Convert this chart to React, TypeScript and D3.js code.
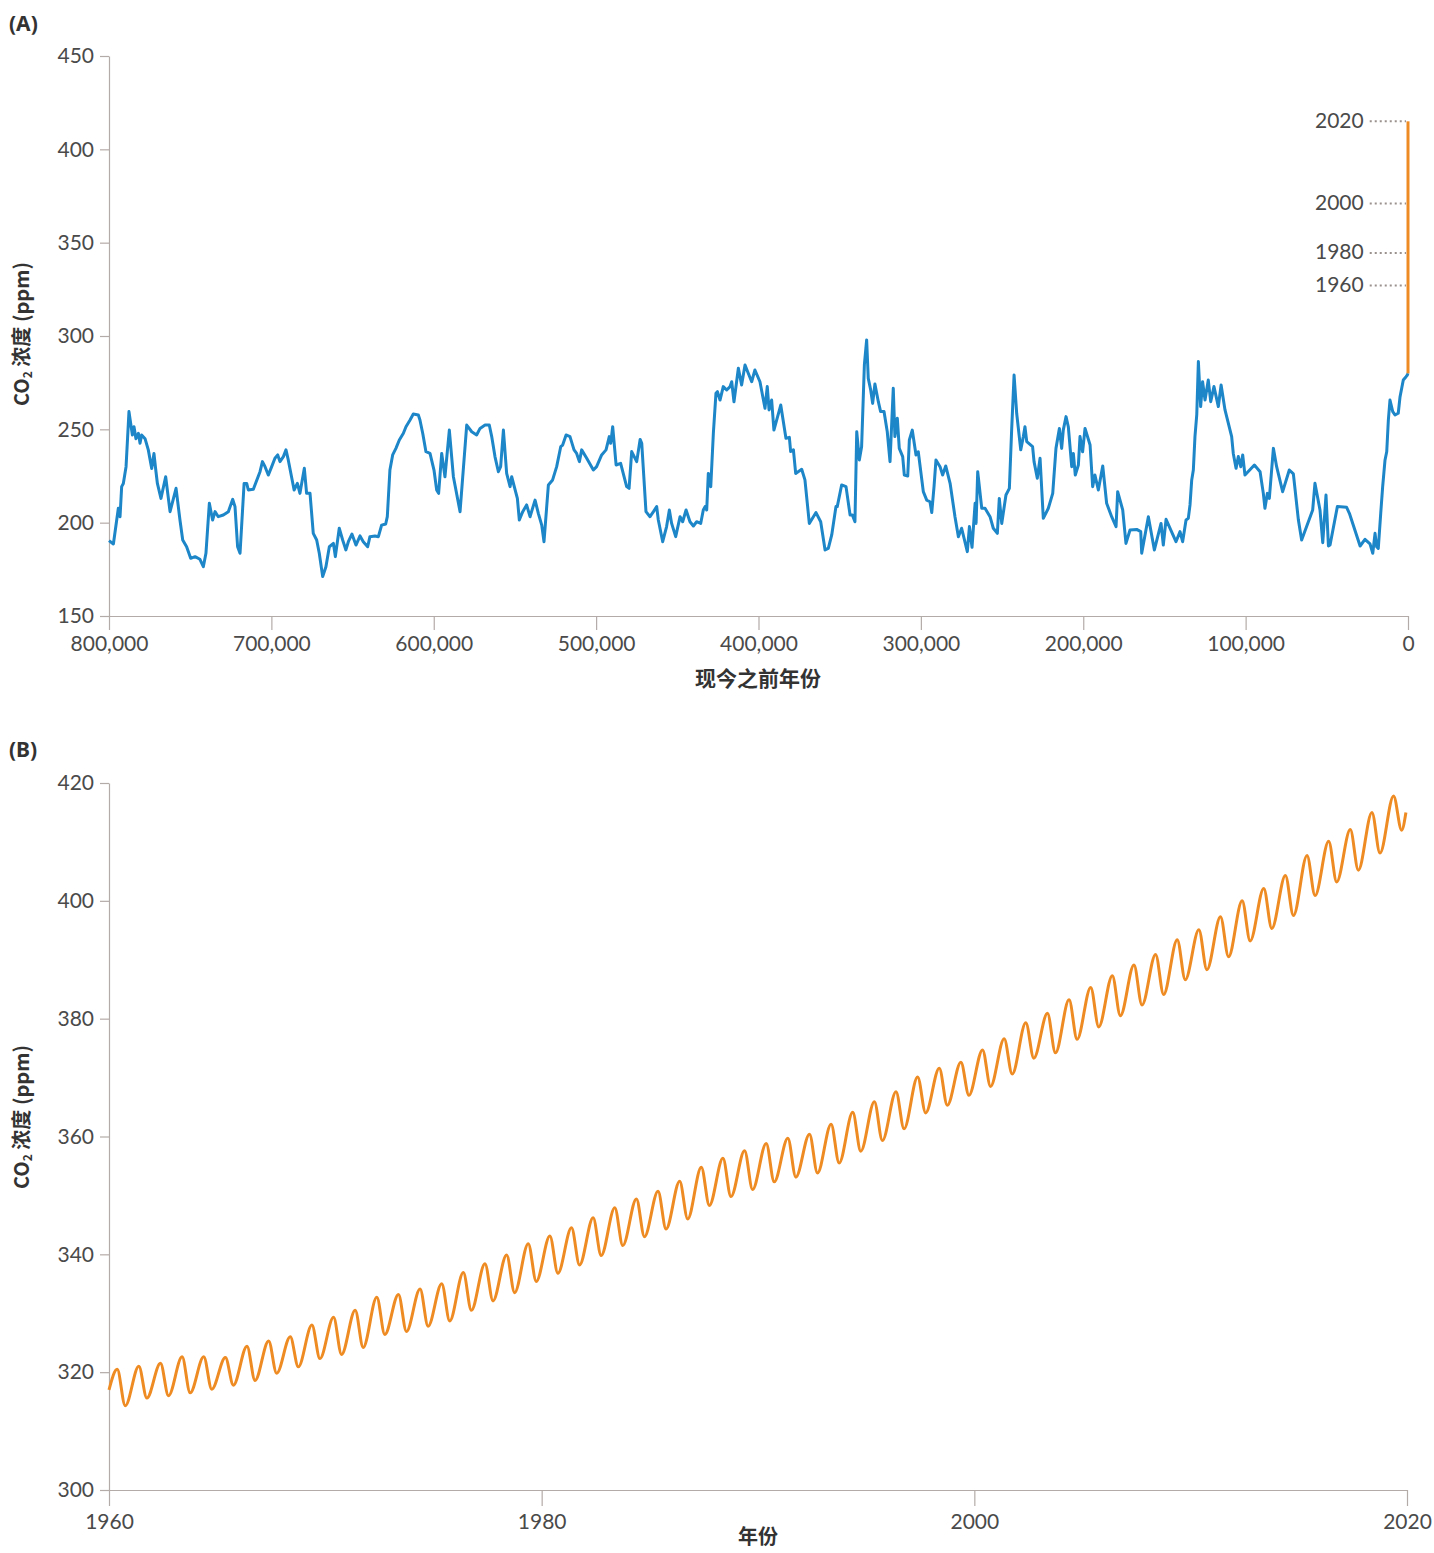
import { useEffect, useRef } from "react";
import * as d3 from "d3";

// (A) ice core record: years before present, CO2 ppm
const iceYearsBP = [
  800000, 797300, 794250, 793200, 792200, 791170, 789500, 787700, 785600, 784600, 783400, 781900, 780900, 779900,
  777800, 775800, 773700, 772300, 771300, 770200, 768000, 765100, 762400, 758700, 756300, 754600, 752200, 749700,
  747000, 744000, 741900, 740300, 738200, 736200, 734700, 732700, 729600, 726500, 723800, 722400, 720800, 719300,
  716800, 715200, 714200, 711100, 707000, 705500, 703900, 701900, 699800, 697800, 696100, 694700, 692600, 691000,
  689600, 686000, 684000, 682400, 679700, 678300, 676200, 674200, 672100, 670500, 668400, 666400, 664300, 661800,
  660600, 658200, 656100, 654100, 652600, 650400, 647900, 645400, 643400, 640700, 639300, 636200, 634100, 632100,
  629600, 628600, 627000, 625300, 623300, 621200, 618700, 617100, 614600, 612600, 609500, 608500, 606800, 604800,
  602300, 599850, 598200, 597000, 595100, 593100, 590400, 587900, 583800, 579700, 576600, 573600, 571500, 568400,
  565800, 564300, 562300, 560200, 558800, 557100, 555100, 553000, 552000, 548500, 547300, 545200, 542800, 540700,
  537600, 535600, 533500, 532100, 529400, 526800, 524300, 521800, 520600, 518500, 516100, 513600, 512000, 510300,
  508900, 505800, 501700, 499700, 496600, 493900, 491900, 491000, 489800, 487700, 484900, 481200, 479700, 478100,
  475000, 472900, 471900, 469300, 466800, 464700, 462700, 461700, 459000, 456600, 454900, 453500, 451000, 448300,
  446700, 444600, 442200, 440100, 438100, 435600, 434000, 432900, 431900, 430900, 429400, 427800, 426200, 425300,
  423700, 421700, 419600, 417500, 416500, 415100, 412400, 410400, 408300, 406300, 404200, 402200, 399100, 396000,
  394600, 393500, 391900, 390500, 386300, 383100, 381000, 380200, 378500, 377100, 373400, 371400, 368700, 364600,
  361700, 359000, 357000, 354900, 352300, 351500, 348800, 346100, 343600, 342200, 340600, 339500, 337900, 336500,
  334800, 333400, 332400, 330900, 329700, 328300, 326200, 324800, 322700, 320700, 319000, 317000, 316000, 314500,
  313300, 311200, 310200, 308100, 307100, 305300, 303000, 301600, 298500, 296400, 294400, 293300, 291900, 290700,
  288200, 286600, 284700, 282000, 279000, 276900, 274900, 271400, 270100, 268500, 266600, 266000, 265000, 262500,
  260500, 257400, 255400, 252900, 251700, 250200, 247600, 245500, 244100, 242600, 241000, 238500, 236900, 235900,
  234800, 231200, 230300, 228300, 226600, 224600, 221500, 218800, 216800, 214700, 213300, 212300, 210600, 209200,
  207100, 206100, 204900, 203000, 202000, 200400, 198900, 195800, 194200, 192800, 190700, 188000, 185600, 182500,
  179800, 178800, 175700, 173700, 171200, 167100, 164600, 164000, 159900, 156200, 152100, 150700, 149000, 142900,
  140400, 138800, 136700, 135300, 134250, 133200, 132200, 131200, 130100, 129100, 127700, 126500, 125000, 123000,
  121500, 119500, 116800, 115100, 112700, 108600, 107600, 105900, 104500, 103000, 101800, 100400, 94600, 91100,
  89100, 88100, 86600, 85400, 82900, 80900, 77200, 73100, 70600, 67500, 65500, 58700, 57300, 54200,
  52500, 50500, 49000, 48000, 43500, 37800, 36100, 29500, 26500, 23400, 21700, 20300, 19300, 18300,
  16800, 15600, 14150, 13100, 12100, 11100, 9400, 8000, 6000, 4900, 2900, 1200, 400, 0,
];
const iceCO2 = [
  190.4, 188.6, 207.7, 203.2, 219.3, 221, 230, 259.5, 247, 251.4, 245, 247.9, 242.5, 247,
  245, 239, 229, 237, 229, 221, 213, 224.6, 205.9, 218.4, 201.4, 190.7, 187.1, 180.9,
  181.8, 180.4, 176.4, 183.6, 210.4, 201.4, 205.9, 203.2, 204.1, 205.9, 212.5, 208.6, 187.1, 183.6,
  221, 221, 217.5, 217.9, 227.3, 232.7, 230, 225.5, 230, 234.5, 236.3, 232.7, 235.4, 239,
  233.6, 217.5, 221.1, 215.7, 229.1, 215.7, 215.7, 194.3, 190.7, 183.6, 171.1, 176.4, 187.1, 188.9,
  181.8, 197, 190.7, 185.4, 189.8, 193.9, 188, 192.9, 189.8, 187.1, 192.5, 192.9, 192.5, 198.7,
  199.3, 203.2, 228.2, 236.3, 239.8, 244.3, 247.9, 251.4, 255, 258.2, 257.7, 255, 247.9, 238,
  237.1, 228.2, 217.5, 215.7, 237.1, 224.6, 249.6, 224.6, 205.9, 252.3, 248.7, 247, 250.5, 252.3,
  252.3, 246.1, 235.4, 227.3, 230, 249.6, 226.4, 219.3, 224.6, 213, 201.4, 205.9, 209.5, 203.2,
  212.1, 205, 198.7, 189.8, 220.2, 222.9, 230, 240.7, 241.6, 247, 246.1, 239, 237.1, 232.7,
  239, 234.5, 228.2, 230, 236.3, 239, 246.1, 242.5, 251.4, 230.9, 231.8, 219.3, 218.4, 238.1,
  232.7, 244.6, 242.5, 205.9, 203.2, 205.9, 208.6, 201.4, 189.8, 197.9, 206.8, 199.6, 192.5, 203.2,
  200.5, 206.8, 200.5, 198.2, 200.5, 199.6, 206.8, 208.6, 206.8, 226.4, 219.3, 247.9, 269.3, 270.2,
  265.7, 272.9, 271.1, 272.9, 275.5, 264.8, 282.7, 273.8, 284.5, 280, 275.5, 281.8, 275.5, 261.3,
  272.9, 260.4, 265.7, 249.6, 263, 245.2, 245.7, 238.1, 239, 226.4, 228.6, 222.9, 199.6, 205.4,
  200.5, 185.4, 186.2, 193.4, 208.6, 208.6, 220.2, 219.3, 204.1, 204.1, 200.5, 248.7, 233.6, 240.7,
  284.5, 297.9, 277.3, 271.1, 263.9, 274.3, 264.8, 259.5, 259.5, 248.7, 232.7, 272, 246.1, 255.9,
  239.8, 235.4, 225.5, 225, 244.3, 249.6, 236.3, 238, 216.6, 212.1, 211.2, 205.4, 219.3, 233.6,
  230, 225.5, 230.4, 221.1, 203.2, 192.5, 197, 184.5, 197.9, 186.8, 210.4, 199.6, 227.3, 207.7,
  207.7, 203.2, 197, 194.3, 213, 199.6, 214.8, 218.4, 249.6, 279.1, 258.6, 239, 246.1, 251.4,
  243.4, 240.7, 232.7, 223.8, 234.5, 202.3, 207.7, 215.7, 239.8, 250.5, 239.8, 249.6, 256.8, 251.4,
  230, 237.1, 225.5, 230.9, 246.1, 238, 250.5, 241.6, 219.3, 225.5, 217.5, 230.4, 210.4, 203.2,
  197.9, 216.6, 206.8, 188.9, 196.1, 196.4, 195.2, 183.6, 203.2, 185.4, 199.6, 188, 201.8, 189.8,
  195.2, 189.8, 201.4, 202.3, 209.5, 222.9, 228.2, 246.1, 257.7, 286.3, 262.2, 275.5, 265.7, 276.4,
  264.8, 272.9, 262.2, 273.8, 260.4, 246.1, 237.1, 229.1, 235.4, 230, 236.3, 225.5, 230.9, 227.3,
  215.7, 207.7, 215.7, 213, 239.8, 230, 216.6, 228.2, 226.1, 201.4, 190.7, 206.8, 221.1, 206.8,
  189.3, 214.8, 187.5, 188, 208.6, 208.2, 205, 187.5, 191.1, 188.6, 183.6, 194.3, 187.1, 186.2,
  205, 219.3, 233.6, 238, 255, 265.7, 259.5, 257.7, 258.6, 267.5, 276.4, 278.2, 279.1, 280,
];

// (B) Mauna Loa: seasonal high and low for each year
const mloYears = [
  1960, 1961, 1962, 1963, 1964, 1965, 1966, 1967, 1968, 1969, 1970, 1971, 1972, 1973, 1974,
  1975, 1976, 1977, 1978, 1979, 1980, 1981, 1982, 1983, 1984, 1985, 1986, 1987, 1988, 1989,
  1990, 1991, 1992, 1993, 1994, 1995, 1996, 1997, 1998, 1999, 2000, 2001, 2002, 2003, 2004,
  2005, 2006, 2007, 2008, 2009, 2010, 2011, 2012, 2013, 2014, 2015, 2016, 2017, 2018, 2019,
];
const mloPeak = [
  320.5, 321.0, 321.5, 322.6, 322.6, 322.5, 324.4, 325.3, 326.0, 328.0, 329.3, 330.5, 332.7, 333.2, 334.1,
  335.0, 336.9, 338.4, 339.9, 341.8, 343.1, 344.5, 346.2, 347.9, 349.4, 350.7, 352.4, 354.8, 356.3, 357.6,
  358.8, 359.7, 360.4, 362.1, 364.1, 365.9, 367.6, 370.1, 371.6, 372.6, 374.7, 376.6, 379.3, 380.9, 383.2,
  385.3, 387.3, 389.1, 390.9, 393.4, 395.1, 397.3, 400.0, 402.1, 404.3, 407.7, 410.1, 412.1, 415.0, 417.8,
];
const mloTrough = [
  314.3, 315.6, 316.0, 316.5, 317.1, 317.8, 318.6, 319.8, 320.9, 322.3, 323.0, 324.2, 326.4, 326.9, 327.8,
  328.7, 330.5, 332.1, 333.5, 335.4, 336.8, 338.2, 339.8, 341.5, 343.0, 344.3, 346.0, 348.3, 349.8, 351.0,
  352.3, 353.1, 353.8, 355.5, 357.5, 359.3, 361.3, 364.0, 365.3, 367.0, 368.5, 370.6, 373.3, 374.2, 376.5,
  378.6, 380.5, 382.3, 384.1, 386.6, 388.3, 390.5, 393.2, 395.3, 397.5, 400.9, 403.2, 405.2, 408.1, 412.0,
];
const mloFirst = 317.0;
const mloLast = 415.0;

const markerLabels = ["1960", "1980", "2000", "2020"];
const markerCO2 = [327, 344.5, 371, 415];

const tickA_x = [800000, 700000, 600000, 500000, 400000, 300000, 200000, 100000, 0];
const tickA_y = [150, 200, 250, 300, 350, 400, 450];
const tickB_x = [1960, 1980, 2000, 2020];
const tickB_y = [300, 320, 340, 360, 380, 400, 420];

const BLUE = "#1c86c8";
const ORANGE = "#ee8b22";
const AXIS = "#b3aba8";
const NUM_FONT = "Lato, 'Noto Sans', sans-serif";
const CJK_FONT = "'Noto Sans CJK SC', 'Noto Sans', sans-serif";

export default function App() {
  const svgRef = useRef<SVGSVGElement>(null);

  useEffect(() => {
    if (!svgRef.current) return;
    document.body.style.margin = "0";
    const svg = d3.select(svgRef.current);
    svg.selectAll("*").remove();

    const styleAxis = (g: any) => {
      g.selectAll("path, line").attr("stroke", AXIS).attr("stroke-width", 1.2);
      g.selectAll("text")
        .attr("fill", "#4a4a4a")
        .attr("font-size", 21)
        .attr("font-family", NUM_FONT);
    };

    const yTitle = (cx: number, cy: number) => {
      const t = svg.append("text")
        .attr("transform", `translate(${cx},${cy}) rotate(-90)`)
        .attr("text-anchor", "middle")
        .attr("dominant-baseline", "middle")
        .attr("font-family", CJK_FONT)
        .attr("font-weight", "bold")
        .attr("font-size", 20)
        .attr("fill", "#333");
      t.append("tspan").text("CO");
      t.append("tspan").attr("font-size", 12).attr("dy", 5).text("2");
      t.append("tspan").attr("dy", -5).text(" 浓度 (ppm)");
    };

    const panelLabel = (y: number, txt: string) => {
      svg.append("text")
        .attr("x", 9).attr("y", y)
        .attr("font-family", "'Noto Sans', sans-serif")
        .attr("font-weight", "bold")
        .attr("font-size", 21)
        .attr("fill", "#333")
        .text(txt);
    };

    // ---------- panel A ----------
    const xA = d3.scaleLinear().domain([800000, 0]).range([109, 1408]);
    const yA = d3.scaleLinear().domain([150, 450]).range([616, 56]);

    const gxA = svg.append("g").attr("transform", `translate(0,${yA(150)})`)
      .call(d3.axisBottom(xA).tickValues(tickA_x).tickFormat(d3.format(",") as any).tickSize(14).tickSizeOuter(0).tickPadding(6));
    styleAxis(gxA);
    const gyA = svg.append("g").attr("transform", `translate(${xA(800000)},0)`)
      .call(d3.axisLeft(yA).tickValues(tickA_y).tickSize(9).tickSizeOuter(0).tickPadding(6));
    styleAxis(gyA);

    const iceData = iceYearsBP.map((yr, i) => [yr, iceCO2[i]] as [number, number]);
    svg.append("path")
      .datum(iceData)
      .attr("fill", "none")
      .attr("stroke", BLUE)
      .attr("stroke-width", 3)
      .attr("stroke-linejoin", "round")
      .attr("d", d3.line<[number, number]>().x(d => xA(d[0])).y(d => yA(d[1])));

    // modern record squeezed onto year 0
    svg.append("line")
      .attr("x1", xA(0)).attr("x2", xA(0))
      .attr("y1", yA(iceCO2[iceCO2.length - 1])).attr("y2", yA(mloLast))
      .attr("stroke", ORANGE).attr("stroke-width", 3);

    markerLabels.forEach((lab, i) => {
      const y = yA(markerCO2[i]);
      const t = svg.append("text")
        .attr("x", 1315).attr("y", y + 1)
        .attr("dominant-baseline", "middle")
        .attr("font-family", NUM_FONT)
        .attr("font-size", 21)
        .attr("fill", "#4a4a4a")
        .text(lab);
      const w = (t.node() as SVGTextElement).getComputedTextLength();
      svg.append("line")
        .attr("x1", 1315 + w + 6).attr("x2", xA(0) - 2)
        .attr("y1", y).attr("y2", y)
        .attr("stroke", "#9a918e").attr("stroke-width", 2)
        .attr("stroke-dasharray", "2,3");
    });

    svg.append("text")
      .attr("x", 758).attr("y", 686)
      .attr("text-anchor", "middle")
      .attr("font-family", CJK_FONT).attr("font-weight", "bold").attr("font-size", 21)
      .attr("fill", "#333")
      .text("现今之前年份");
    yTitle(24, 334);
    panelLabel(31, "(A)");

    // ---------- panel B ----------
    const xB = d3.scaleLinear().domain([1960, 2020]).range([109, 1407]);
    const yB = d3.scaleLinear().domain([300, 420]).range([1490, 783]);

    const gxB = svg.append("g").attr("transform", `translate(0,${yB(300)})`)
      .call(d3.axisBottom(xB).tickValues(tickB_x).tickFormat(d3.format("d") as any).tickSize(16).tickSizeOuter(0).tickPadding(8));
    styleAxis(gxB);
    const gyB = svg.append("g").attr("transform", `translate(${xB(1960)},0)`)
      .call(d3.axisLeft(yB).tickValues(tickB_y).tickSize(9).tickSizeOuter(0).tickPadding(6));
    styleAxis(gyB);

    const mloData: [number, number][] = [[1960, mloFirst]];
    mloYears.forEach((yr, i) => {
      mloData.push([yr + 0.38, mloPeak[i]]);
      mloData.push([yr + 0.75, mloTrough[i]]);
    });
    mloData.push([2019.95, mloLast]);

    svg.append("path")
      .datum(mloData)
      .attr("fill", "none")
      .attr("stroke", ORANGE)
      .attr("stroke-width", 3)
      .attr("d", d3.line<[number, number]>().x(d => xB(d[0])).y(d => yB(d[1])).curve(d3.curveMonotoneX));

    svg.append("text")
      .attr("x", 758).attr("y", 1544)
      .attr("text-anchor", "middle")
      .attr("font-family", CJK_FONT).attr("font-weight", "bold").attr("font-size", 20)
      .attr("fill", "#333")
      .text("年份");
    yTitle(24, 1117);
    panelLabel(757, "(B)");
  }, []);

  return (
    <div style={{ width: 1434, height: 1553 }}>
      <svg ref={svgRef} width={1434} height={1553} style={{ display: "block" }}></svg>
    </div>
  );
}
